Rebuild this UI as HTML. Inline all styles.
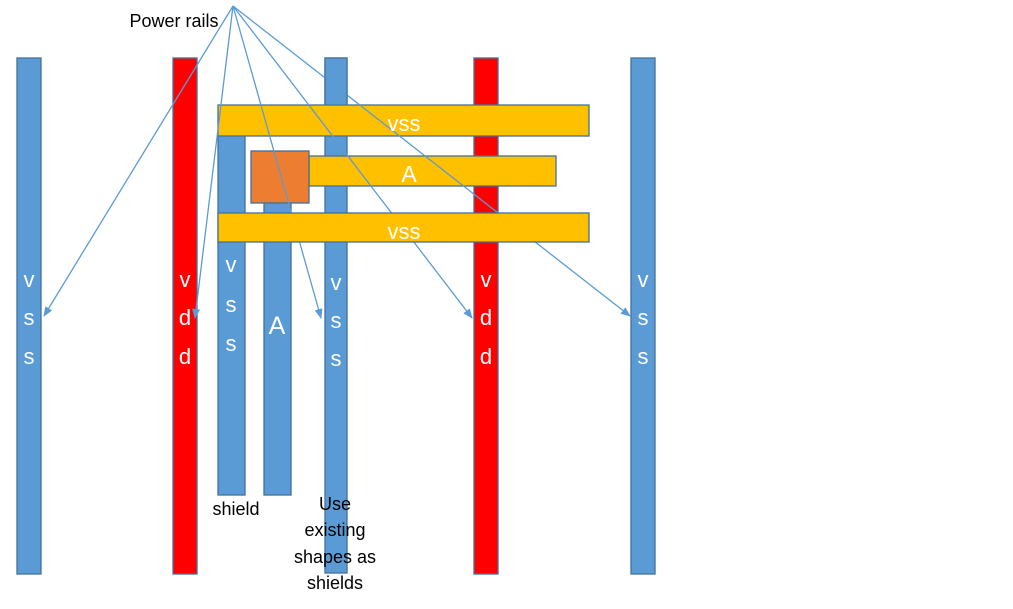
<!DOCTYPE html>
<html><head><style>
html,body{margin:0;padding:0;background:#fff;}
svg text{font-family:"Liberation Sans",sans-serif;}
</style></head><body>
<svg width="1013" height="604" viewBox="0 0 1013 604" xmlns="http://www.w3.org/2000/svg">
<defs>
<marker id="ar" markerWidth="10" markerHeight="8" refX="9" refY="4" orient="auto" markerUnits="userSpaceOnUse">
<path d="M0,0 L10,4 L0,8 z" fill="#5b9bd5"/>
</marker>
</defs>
<g stroke="#41719c" stroke-width="1.3">
<rect x="17" y="58" width="24" height="516" fill="#5b9bd5"/>
<rect x="173" y="58" width="24" height="516" fill="#ff0000"/>
<rect x="474" y="58" width="24" height="516" fill="#ff0000"/>
<rect x="631" y="58" width="24" height="516" fill="#5b9bd5"/>
<rect x="218" y="133" width="27" height="362" fill="#5b9bd5"/>
<rect x="264" y="200" width="27" height="295" fill="#5b9bd5"/>
<rect x="325" y="58" width="22" height="515" fill="#5b9bd5"/>
<rect x="218" y="105" width="371" height="31" fill="#ffc000"/>
<rect x="309" y="156" width="247" height="30" fill="#ffc000"/>
<rect x="251" y="151" width="58" height="52" fill="#ed7d31"/>
</g>
<g stroke="#5b9bd5" stroke-width="1.3" fill="none" marker-end="url(#ar)">
<line x1="233" y1="6" x2="44" y2="316"/>
<line x1="233" y1="6" x2="195" y2="318"/>
<line x1="233" y1="6" x2="321" y2="318"/>
<line x1="233" y1="6" x2="472" y2="318"/>
<line x1="233" y1="6" x2="630" y2="316"/>
</g>
<g stroke="#41719c" stroke-width="1.3">
<path d="M325,104.5 L325,58 L347,58 L347,104.5" fill="#5b9bd5"/>
<rect x="218" y="213" width="371" height="29" fill="#ffc000"/>
</g>
<g fill="#fff" font-size="22" text-anchor="middle">
<text x="29" y="287">v</text><text x="29" y="325">s</text><text x="29" y="364">s</text>
<text x="185" y="287">v</text><text x="185" y="325">d</text><text x="185" y="364">d</text>
<text x="231" y="272">v</text><text x="231" y="312">s</text><text x="231" y="351">s</text>
<text x="277" y="334" font-size="25">A</text>
<text x="336" y="290">v</text><text x="336" y="328">s</text><text x="336" y="366">s</text>
<text x="486" y="287">v</text><text x="486" y="325">d</text><text x="486" y="364">d</text>
<text x="643" y="287">v</text><text x="643" y="325">s</text><text x="643" y="364">s</text>
<text x="404" y="131">vss</text>
<text x="409" y="182" font-size="23">A</text>
<text x="404" y="239">vss</text>
</g>
<g fill="#000" font-size="18" text-anchor="middle">
<text x="174" y="27">Power rails</text>
<text x="236" y="515">shield</text>
<text x="335" y="510">Use</text>
<text x="335" y="536">existing</text>
<text x="335" y="563">shapes as</text>
<text x="335" y="589">shields</text>
</g>
</svg>
</body></html>
